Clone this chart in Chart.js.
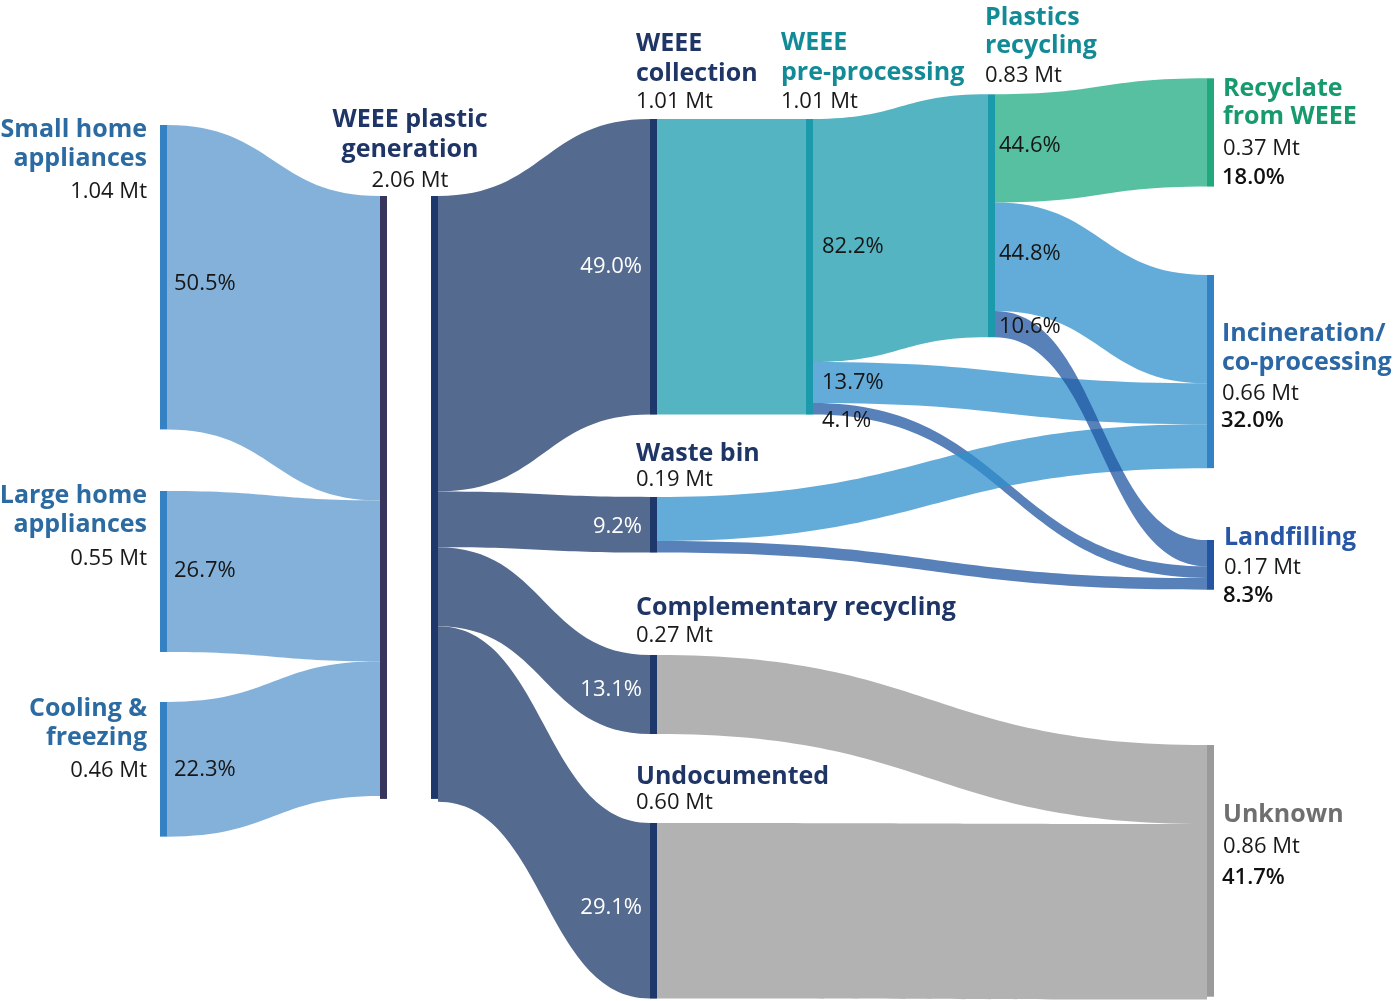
<!DOCTYPE html>
<html><head><meta charset="utf-8">
<script src="https://cdn.jsdelivr.net/npm/chart.js@4/dist/chart.umd.min.js"></script>
<style>html,body{margin:0;padding:0;background:#fff;}#wrap{width:1394px;height:1001px;position:relative;}</style>
</head><body><div id="wrap"><canvas id="c"></canvas></div>
<script>
// ---------- DATA ----------
const nodeLabels = [
  ['Small home','appliances'], ['Large home','appliances'], ['Cooling &','freezing'],
  ['WEEE plastic','generation'],
  ['WEEE','collection'], ['Waste bin'], ['Complementary recycling'], ['Undocumented'],
  ['WEEE','pre-processing'], ['Plastics','recycling'],
  ['Recyclate','from WEEE'], ['Incineration/','co-processing'], ['Landfilling'], ['Unknown']
];
const nodeValues = [1.04, 0.55, 0.46, 2.06, 1.01, 0.19, 0.27, 0.60, 1.01, 0.83, 0.37, 0.66, 0.17, 0.86];
const nodeShares = [null, null, null, null, null, null, null, null, null, null, 18.0, 32.0, 8.3, 41.7];

const flowSource = [0, 1, 2, 3, 3, 3, 3, 4, 8, 8, 8, 5, 5, 9, 9, 9, 6, 7];
const flowTarget = [3, 3, 3, 4, 5, 6, 7, 8, 9, 11, 12, 11, 12, 10, 11, 12, 13, 13];
const flowValues = [1.04, 0.55, 0.46, 1.01, 0.19, 0.27, 0.60, 1.01, 0.83, 0.14, 0.04, 0.15, 0.04, 0.37, 0.37, 0.09, 0.27, 0.60];
const flowShares = [50.5, 26.7, 22.3, 49.0, 9.2, 13.1, 29.1, null, 82.2, 13.7, 4.1, null, null, 44.6, 44.8, 10.6, null, null];

// ---------- LAYOUT (positions in scale units) ----------
const nodeXIn  = [160, 160, 160, 380, 650, 650, 650, 650, 806, 988, 1207, 1207, 1207, 1207];
const nodeXOut = [160, 160, 160, 431, 650, 650, 650, 650, 806, 988, 1207, 1207, 1207, 1207];
const nodeTop  = [0.4271, 1.6775, 2.3984, 0.6696, 0.4066, 1.6980, 2.2378, 2.8118, 0.4066, 0.3222, 0.2675, 0.9395, 1.8449, 2.5453];
const NODE_W = 7;
const Y_MAX = 3.42;

// label layout: alignment, dx from node left (px), baselines relative to node top (px)
const labelAlign = ['right','right','right','center','left','left','left','left','left','left','left','left','left','left'];
const labelDx    = [-13, -13, -13, 30, -14, -14, -14, -14, -25, -3, 16, 15, 17, 16];
const labelBase  = [
  [12, 41, 73], [12, 41, 74], [14, 43, 75], [-69, -39, -9],
  [-68, -38, -11], [-36, -11], [-40, -13], [-39, -14],
  [-69, -39, -11], [-69, -41, -12],
  [18, 46, 77, 106], [66, 95, 125, 152], [5, 34, 62], [77, 108, 139]
];
// flow % label: side ('s' = after source, 't' = before target), dx, baseline offset from band centre
const flowLabelSide = ['s','s','s','t','t','t','t',null,'s','s','s',null,null,'s','s','s',null,null];
const flowLabelDx   = [7, 7, 7, -8, -8, -8, -8, 0, 9, 9, 9, 0, 0, 4, 4, 4, 0, 0];
const flowLabelDy   = [13, 6, 7, 6, 8, 2, 3, 0, 13, 7, 18, 0, 0, 4, 3, 9, 0, 0];

// ---------- STYLES ----------
const nodeColor    = ['#3481c4','#3481c4','#3481c4','#37355b','#1f386b','#1f386b','#1f386b','#1f386b','#1a9aaa','#1a9aaa','#21a97d','#3481c4','#2455a2','#9a9a9a'];
const nodeColorOut = {3: '#1f386b'};
const labelColor   = ['#2c6aa2','#2c6aa2','#2c6aa2','#1f3566','#1f3566','#1f3566','#1f3566','#1f3566','#128b97','#128b97','#169a6e','#2b67a5','#2656a5','#6f6f6f'];
function flowColor(i){
  const s = flowSource[i], t = flowTarget[i];
  if (t === 3) return '#83b1d9';
  if (s === 3) return '#546a8e';
  if (t === 8 || t === 9) return '#55b4c1';
  if (t === 10) return '#57c0a0';
  if (t === 11) return 'rgba(47,144,204,0.75)';
  if (t === 12) return 'rgba(32,86,162,0.75)';
  return '#b2b2b2';
}
function flowTextColor(i){ return flowSource[i] === 3 ? '#ffffff' : '#161616'; }
const FONT = '"Open Sans", "DejaVu Sans", sans-serif';

const sankeyPlugin = {
  id: 'sankeyDraw',
  afterDatasetsDraw(chart) {
    const ctx = chart.ctx, xs = chart.scales.x, ys = chart.scales.y;
    const px = v => xs.getPixelForValue(v), py = v => ys.getPixelForValue(v);
    const n = nodeValues.length, m = flowValues.length;
    // stacking offsets
    const y0 = new Array(m), y1 = new Array(m);
    for (let k = 0; k < n; k++) {
      const outs = [], ins = [];
      for (let i = 0; i < m; i++) { if (flowSource[i] === k) outs.push(i); if (flowTarget[i] === k) ins.push(i); }
      outs.sort((a, b) => nodeTop[flowTarget[a]] - nodeTop[flowTarget[b]]);
      ins.sort((a, b) => nodeTop[flowSource[a]] - nodeTop[flowSource[b]]);
      let o = nodeTop[k]; outs.forEach(i => { y0[i] = o; o += flowValues[i]; });
      o = nodeTop[k]; ins.forEach(i => { y1[i] = o; o += flowValues[i]; });
    }
    ctx.save();
    // flows
    for (let i = 0; i < m; i++) {
      const s = flowSource[i], t = flowTarget[i];
      const xa = px(nodeXOut[s] + NODE_W), xb = px(nodeXIn[t]);
      const a0 = py(y0[i]), a1 = py(y0[i] + flowValues[i]);
      const b0 = py(y1[i]), b1 = py(y1[i] + flowValues[i]);
      const xm = (xa + xb) / 2;
      ctx.beginPath();
      ctx.moveTo(xa, a0);
      ctx.bezierCurveTo(xm, a0, xm, b0, xb, b0);
      ctx.lineTo(xb, b1);
      ctx.bezierCurveTo(xm, b1, xm, a1, xa, a1);
      ctx.closePath();
      ctx.fillStyle = flowColor(i);
      ctx.fill();
    }
    // nodes
    for (let k = 0; k < n; k++) {
      const top = py(nodeTop[k]), bot = py(nodeTop[k] + nodeValues[k]);
      ctx.fillStyle = nodeColor[k];
      ctx.fillRect(px(nodeXIn[k]), top, px(nodeXIn[k] + NODE_W) - px(nodeXIn[k]), bot - top);
      if (nodeXOut[k] !== nodeXIn[k]) {
        ctx.fillStyle = nodeColorOut[k] || nodeColor[k];
        ctx.fillRect(px(nodeXOut[k]), top, px(nodeXOut[k] + NODE_W) - px(nodeXOut[k]), bot - top);
      }
    }
    // node labels
    ctx.textBaseline = 'alphabetic';
    for (let k = 0; k < n; k++) {
      const x = px(nodeXIn[k]) + labelDx[k], top = py(nodeTop[k]);
      ctx.textAlign = labelAlign[k];
      const lines = nodeLabels[k];
      ctx.font = '700 25px ' + FONT;
      ctx.fillStyle = labelColor[k];
      lines.forEach((ln, j) => ctx.fillText(ln, x, top + labelBase[k][j]));
      ctx.font = '400 22px ' + FONT;
      ctx.fillStyle = '#1a1a1a';
      ctx.fillText(nodeValues[k].toFixed(2) + ' Mt', x, top + labelBase[k][lines.length]);
      if (nodeShares[k] !== null) {
        ctx.font = '600 22px ' + FONT;
        ctx.fillStyle = '#111111';
        ctx.fillText(nodeShares[k].toFixed(1) + '%', x - 1, top + labelBase[k][lines.length + 1]);
      }
    }
    // flow labels
    ctx.font = '400 22px ' + FONT;
    for (let i = 0; i < m; i++) {
      if (flowShares[i] === null) continue;
      const s = flowSource[i], t = flowTarget[i];
      let x, yc;
      if (flowLabelSide[i] === 's') {
        x = px(nodeXOut[s] + NODE_W) + flowLabelDx[i];
        yc = (py(y0[i]) + py(y0[i] + flowValues[i])) / 2;
        ctx.textAlign = 'left';
      } else {
        x = px(nodeXIn[t]) + flowLabelDx[i];
        yc = (py(y1[i]) + py(y1[i] + flowValues[i])) / 2;
        ctx.textAlign = 'right';
      }
      ctx.fillStyle = flowTextColor(i);
      ctx.fillText(flowShares[i].toFixed(1) + '%', x, yc + flowLabelDy[i]);
    }
    ctx.restore();
  }
};

new Chart(document.getElementById('c'), {
  type: 'scatter',
  data: { datasets: [{ data: [] }] },
  options: {
    responsive: true, maintainAspectRatio: false, animation: false,
    layout: { padding: 0 },
    plugins: { legend: { display: false }, tooltip: { enabled: false } },
    scales: {
      x: { type: 'linear', min: 0, max: 1394, display: false },
      y: { type: 'linear', min: 0, max: Y_MAX, reverse: true, display: false }
    }
  },
  plugins: [sankeyPlugin]
});
</script>
</body></html>
